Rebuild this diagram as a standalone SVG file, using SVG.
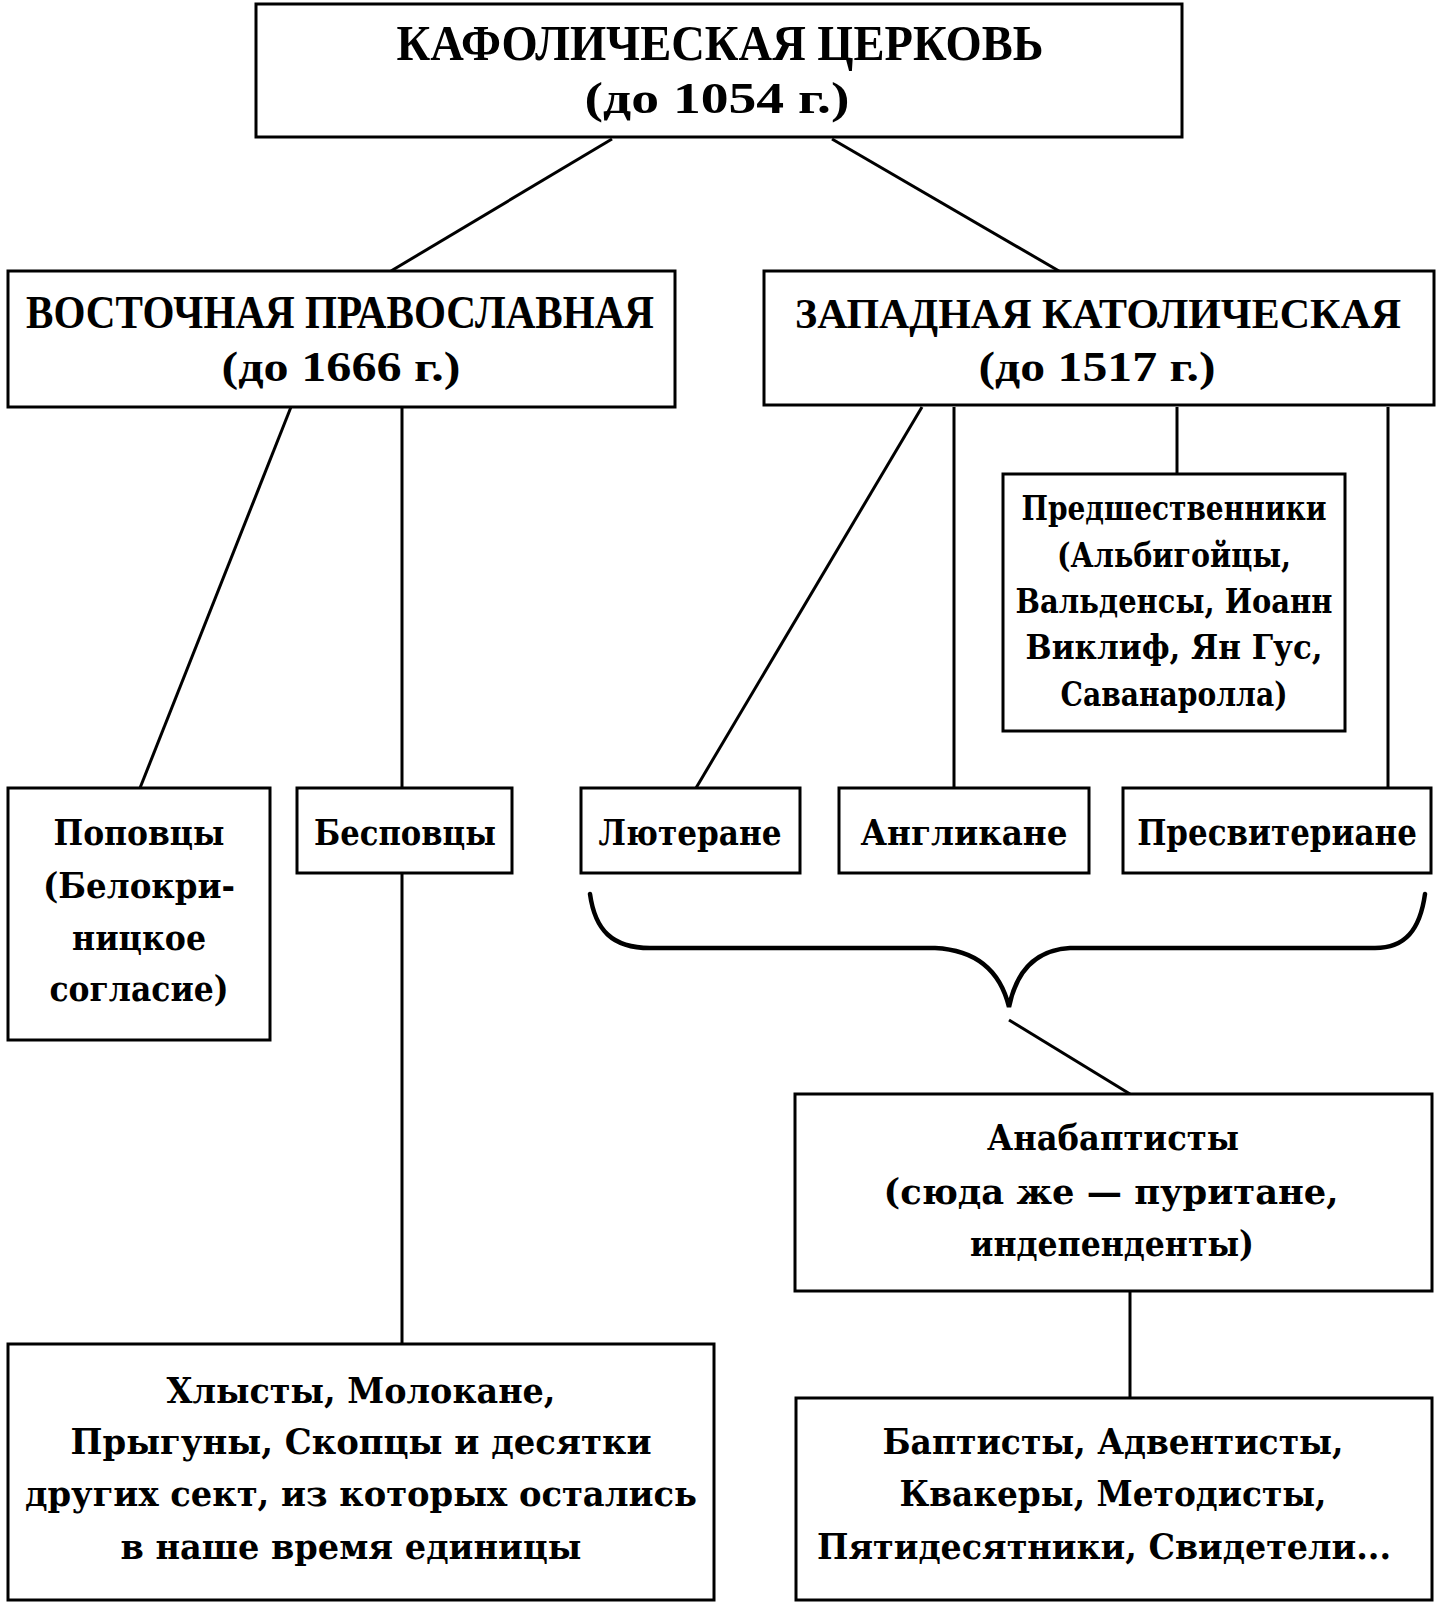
<svg xmlns="http://www.w3.org/2000/svg" width="1442" height="1620" viewBox="0 0 1442 1620">
<style>
.box{fill:#fff;stroke:#000;stroke-width:3}
.ln{stroke:#000;stroke-width:3;fill:none}
.br{stroke:#000;stroke-width:4.5;fill:none;stroke-linecap:round}
.h{font-family:"Liberation Serif",serif;font-weight:bold;text-anchor:middle;fill:#000}
.t{font-family:"DejaVu Serif","Liberation Serif",serif;font-weight:bold;text-anchor:middle;font-size:36px;fill:#000}
.s{font-size:34px}
</style>
<rect width="1442" height="1620" fill="#fff"/>
<g id="connectors">
<line class="ln" x1="612" y1="139" x2="391" y2="271"/>
<line class="ln" x1="832" y1="139" x2="1059" y2="271"/>
<line class="ln" x1="291" y1="407" x2="140" y2="788"/>
<line class="ln" x1="402" y1="407" x2="402" y2="788"/>
<line class="ln" x1="922" y1="407" x2="696" y2="788"/>
<line class="ln" x1="954" y1="407" x2="954" y2="788"/>
<line class="ln" x1="1177" y1="407" x2="1177" y2="474"/>
<line class="ln" x1="1388" y1="407" x2="1388" y2="788"/>
<line class="ln" x1="402" y1="873" x2="402" y2="1344"/>
<path class="br" d="M590,894 C595,930 612,948 650,948 L935,948 C975,950 1000,970 1009,1007 C1016,972 1035,950 1070,948 L1375,948 C1405,948 1420,930 1425,894"/>
<line class="ln" x1="1009" y1="1020" x2="1130" y2="1094"/>
<line class="ln" x1="1130" y1="1291" x2="1130" y2="1398"/>
</g>
<g id="kafol">
<rect class="box" x="256" y="4" width="926" height="133"/>
<text class="h" x="720" y="60" font-size="50" textLength="647" lengthAdjust="spacingAndGlyphs">КАФОЛИЧЕСКАЯ ЦЕРКОВЬ</text>
<text class="h" x="717" y="113" font-size="44" textLength="265" lengthAdjust="spacingAndGlyphs">(до 1054 г.)</text>
</g>
<g id="vostok">
<rect class="box" x="8" y="271" width="667" height="136"/>
<text class="h" x="340" y="328" font-size="46" textLength="628" lengthAdjust="spacingAndGlyphs">ВОСТОЧНАЯ ПРАВОСЛАВНАЯ</text>
<text class="h" x="341" y="381" font-size="42" textLength="239" lengthAdjust="spacingAndGlyphs">(до 1666 г.)</text>
</g>
<g id="zapad">
<rect class="box" x="764" y="271" width="670" height="134"/>
<text class="h" x="1098" y="328" font-size="43" textLength="606" lengthAdjust="spacingAndGlyphs">ЗАПАДНАЯ КАТОЛИЧЕСКАЯ</text>
<text class="h" x="1097" y="381" font-size="42" textLength="237" lengthAdjust="spacingAndGlyphs">(до 1517 г.)</text>
</g>
<g id="predsh">
<rect class="box" x="1003" y="474" width="342" height="257"/>
<text class="t s" x="1174" y="520" textLength="305" lengthAdjust="spacingAndGlyphs">Предшественники</text>
<text class="t s" x="1174" y="567" textLength="234" lengthAdjust="spacingAndGlyphs">(Альбигойцы,</text>
<text class="t s" x="1174" y="613" textLength="317" lengthAdjust="spacingAndGlyphs">Вальденсы, Иоанн</text>
<text class="t s" x="1174" y="659" textLength="297" lengthAdjust="spacingAndGlyphs">Виклиф, Ян Гус,</text>
<text class="t s" x="1174" y="706" textLength="227" lengthAdjust="spacingAndGlyphs">Саванаролла)</text>
</g>
<g id="popovtsy">
<rect class="box" x="8" y="788" width="262" height="252"/>
<text class="t" x="139" y="845" textLength="171" lengthAdjust="spacingAndGlyphs">Поповцы</text>
<text class="t" x="139" y="898" textLength="192" lengthAdjust="spacingAndGlyphs">(Белокри-</text>
<text class="t" x="139" y="950" textLength="134" lengthAdjust="spacingAndGlyphs">ницкое</text>
<text class="t" x="139" y="1001" textLength="179" lengthAdjust="spacingAndGlyphs">согласие)</text>
</g>
<g id="bespovtsy">
<rect class="box" x="297" y="788" width="215" height="85"/>
<text class="t" x="405" y="845" textLength="182" lengthAdjust="spacingAndGlyphs">Бесповцы</text>
</g>
<g id="lyuterane">
<rect class="box" x="581" y="788" width="219" height="85"/>
<text class="t" x="690" y="845" textLength="183" lengthAdjust="spacingAndGlyphs">Лютеране</text>
</g>
<g id="anglikane">
<rect class="box" x="839" y="788" width="250" height="85"/>
<text class="t" x="964" y="845" textLength="207" lengthAdjust="spacingAndGlyphs">Англикане</text>
</g>
<g id="presviteriane">
<rect class="box" x="1123" y="788" width="308" height="85"/>
<text class="t" transform="translate(1277,845) scale(0.86,1)" x="0" y="0" font-size="35">Пресвитериане</text>
</g>
<g id="anabaptisty">
<rect class="box" x="795" y="1094" width="637" height="197"/>
<text class="t" x="1113" y="1150" textLength="252" lengthAdjust="spacingAndGlyphs">Анабаптисты</text>
<text class="t" x="1111" y="1204" textLength="455" lengthAdjust="spacingAndGlyphs">(сюда же — пуритане,</text>
<text class="t" x="1112" y="1256" textLength="284" lengthAdjust="spacingAndGlyphs">индепенденты)</text>
</g>
<g id="sekty">
<rect class="box" x="8" y="1344" width="706" height="256"/>
<text class="t" x="361" y="1403" textLength="389" lengthAdjust="spacingAndGlyphs">Хлысты, Молокане,</text>
<text class="t" x="361" y="1454" textLength="581" lengthAdjust="spacingAndGlyphs">Прыгуны, Скопцы и десятки</text>
<text class="t" x="361" y="1506" textLength="672" lengthAdjust="spacingAndGlyphs">других сект, из которых остались</text>
<text class="t" x="351" y="1559" textLength="461" lengthAdjust="spacingAndGlyphs">в наше время единицы</text>
</g>
<g id="baptisty">
<rect class="box" x="796" y="1398" width="636" height="202"/>
<text class="t" x="1113" y="1454" textLength="461" lengthAdjust="spacingAndGlyphs">Баптисты, Адвентисты,</text>
<text class="t" x="1113" y="1506" textLength="427" lengthAdjust="spacingAndGlyphs">Квакеры, Методисты,</text>
<text class="t" x="1104" y="1559" textLength="574" lengthAdjust="spacingAndGlyphs">Пятидесятники, Свидетели...</text>
</g>
</svg>
